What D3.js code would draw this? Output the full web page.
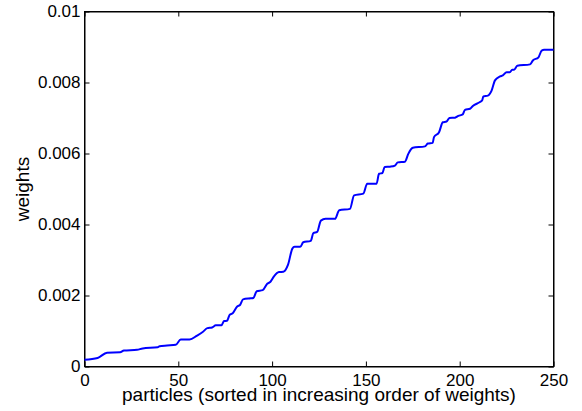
<!DOCTYPE html>
<html>
<head>
<meta charset="utf-8">
<script src="https://cdn.jsdelivr.net/npm/d3@7"></script>
<style>
  body { margin: 0; background: #fff; }
  text { font-family: Arial, "Liberation Sans", Helvetica, sans-serif; }
</style>
</head>
<body>
<svg width="582" height="411" id="canvas"></svg>
<script>
// sorted particle weights (particle index, weight)
var particles = [0, 7, 12, 19, 21, 28, 31, 39, 40, 44, 48.6, 51.3, 56, 60, 63, 65.5, 68, 70, 73, 74.4,
                 76, 77.4, 79, 81.4, 83, 84.5, 88.6, 90, 91.8, 95, 97.4, 99, 101, 103.7, 106, 108.5, 110.8, 112, 115, 116.6,
                 120.6, 122, 124, 126, 128.5, 133.5, 135.8, 141.5, 143.7, 148.6, 150.7, 155.7, 157, 158.8, 160, 163, 165.5, 167, 170.8, 172.6,
                 175, 181.5, 183, 185.6, 186.3, 189, 191, 193, 194.5, 197.5, 199.3, 201.6, 202.8, 205.5, 207, 210.8, 212, 212.6, 215, 217,
                 218.8, 221.5, 223, 225, 226.7, 228, 229, 230.7, 237.5, 239, 242, 243.7, 245, 250];
var weights = [0.00019, 0.00024, 0.00039, 0.00040, 0.00045, 0.00047, 0.00051, 0.00054, 0.00057, 0.00059, 0.00061, 0.00076, 0.00076, 0.00087, 0.00097, 0.00108, 0.00110, 0.00116, 0.00116, 0.00128,
               0.00129, 0.00146, 0.00150, 0.00169, 0.00174, 0.00189, 0.00192, 0.00193, 0.00212, 0.00215, 0.00233, 0.00238, 0.00254, 0.00266, 0.00267, 0.00287, 0.00332, 0.00337, 0.00337, 0.00350,
               0.00354, 0.00376, 0.00379, 0.00411, 0.00416, 0.00416, 0.00440, 0.00444, 0.00482, 0.00487, 0.00515, 0.00515, 0.00543, 0.00545, 0.00562, 0.00563, 0.00566, 0.00575, 0.00577, 0.00599,
               0.00616, 0.00620, 0.00628, 0.00630, 0.00646, 0.00660, 0.00688, 0.00690, 0.00700, 0.00701, 0.00706, 0.00710, 0.00723, 0.00726, 0.00734, 0.00745, 0.00750, 0.00761, 0.00763, 0.00777,
               0.00806, 0.00817, 0.00820, 0.00829, 0.00829, 0.00836, 0.00836, 0.00847, 0.00851, 0.00862, 0.00871, 0.00890, 0.00892, 0.00892];
var xTicks = [0, 50, 100, 150, 200, 250];
var yTicks = [0, 0.002, 0.004, 0.006, 0.008, 0.01];

var boxL = 84.5, boxR = 553.5, boxT = 11.5, boxB = 366.5;

svg = d3.select("#canvas");

var x = d3.scaleLinear().domain([0, 250]).range([boxL, boxR]);
var y = d3.scaleLinear().domain([0, 0.01]).range([boxB, boxT]);

var fmt = function(d){ return d === 0 ? "0" : String(+d.toFixed(3)); };

// bottom + left axes carry the labels, ticks point inward
svg.append("g")
    .attr("transform", "translate(0," + boxB + ")")
    .call(d3.axisBottom(x).tickValues(xTicks).tickSizeInner(-5).tickSizeOuter(0).tickPadding(7));

svg.append("g")
    .attr("transform", "translate(" + boxL + ",0)")
    .call(d3.axisLeft(y).tickValues(yTicks).tickFormat(fmt).tickSizeInner(-5).tickSizeOuter(0).tickPadding(4));

// top + right just ticks
svg.append("g")
    .attr("transform", "translate(0," + boxT + ")")
    .call(d3.axisTop(x).tickValues(xTicks).tickFormat("").tickSizeInner(-5).tickSizeOuter(0));

svg.append("g")
    .attr("transform", "translate(" + boxR + ",0)")
    .call(d3.axisRight(y).tickValues(yTicks).tickFormat("").tickSizeInner(-5).tickSizeOuter(0));

svg.selectAll(".tick text")
    .attr("font-size", "17")
    .attr("font-family", "Arial, Liberation Sans, sans-serif")
    .attr("fill", "#000");

svg.selectAll(".domain").attr("stroke", "#000");

svg.append("rect")
    .attr("x", boxL)
    .attr("y", boxT)
    .attr("width", boxR - boxL)
    .attr("height", boxB - boxT)
    .attr("fill", "none")
    .attr("stroke", "#000")
    .attr("stroke-width", 1);

var line = d3.line()
    .x(function(d, i){ return x(particles[i]); })
    .y(function(d){ return y(d); })
    .curve(d3.curveMonotoneX);

svg.append("path")
    .datum(weights)
    .attr("d", line)
    .attr("fill", "none")
    .attr("stroke", "#0000ff")
    .attr("stroke-width", 2);

svg.append("text")
    .attr("x", (boxL + boxR) / 2)
    .attr("y", 401)
    .attr("font-size", "19")
    .attr("text-anchor", "middle")
    .text("particles (sorted in increasing order of weights)");

svg.append("text")
    .attr("transform", "translate(29," + ((boxT + boxB) / 2) + ") rotate(-90)")
    .attr("font-size", "19")
    .attr("text-anchor", "middle")
    .text("weights");
</script>
</body>
</html>
